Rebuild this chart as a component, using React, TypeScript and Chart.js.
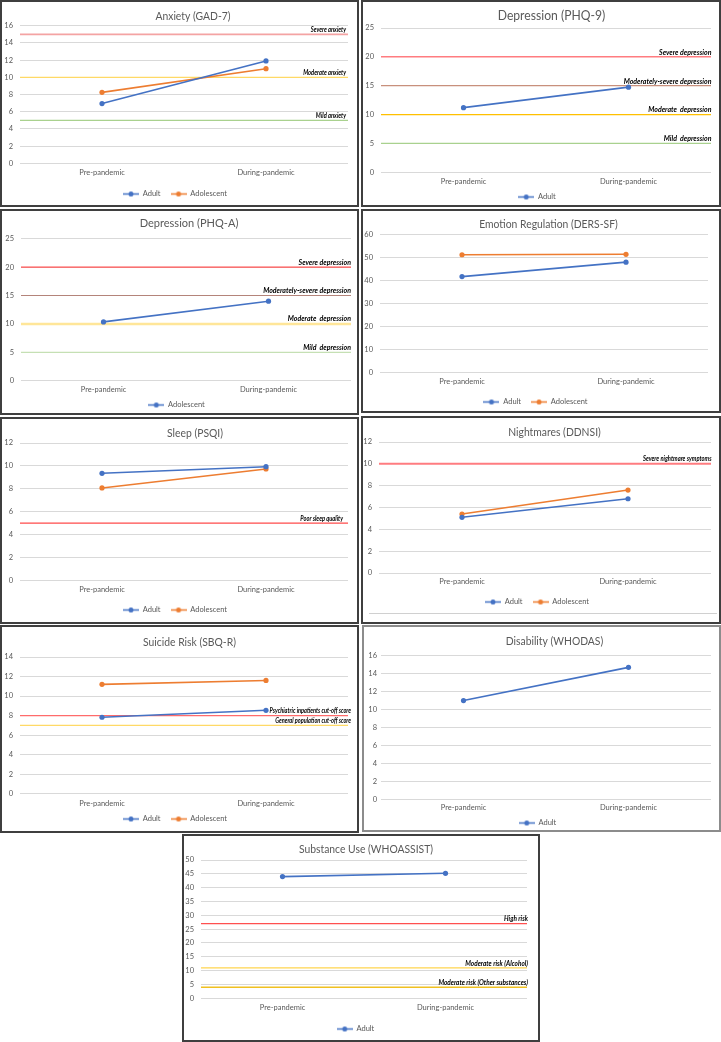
import React, { useEffect, useRef } from "react";
import { Chart, registerables } from "chart.js";
Chart.register(...registerables);

// ---------- DATA ----------
const categories = ["Pre-pandemic", "During-pandemic"];

const anxietyAdult = [6.95, 11.9];
const anxietyAdolescent = [8.25, 11.0];
const anxietyCutValues = [15, 10, 5];
const anxietyCutLabels = ["Severe anxiety", "Moderate anxiety", "Mild anxiety"];

const phq9Adult = [11.2, 14.75];
const depressionCutValues = [20, 15, 10, 5];
const depressionCutLabels = [
  "Severe depression",
  "Moderately-severe depression",
  "Moderate  depression",
  "Mild  depression",
];

const phqaAdolescent = [10.35, 14.0];

const dersAdult = [41.6, 47.9];
const dersAdolescent = [51.1, 51.3];

const psqiAdult = [9.35, 9.93];
const psqiAdolescent = [8.07, 9.73];
const psqiCutValues = [5];
const psqiCutLabels = ["Poor sleep quality"];

const ddnsiAdult = [5.1, 6.8];
const ddnsiAdolescent = [5.4, 7.6];
const ddnsiCutValues = [10];
const ddnsiCutLabels = ["Severe nightmare symptoms"];

const sbqAdult = [7.83, 8.54];
const sbqAdolescent = [11.2, 11.6];
const sbqCutValues = [8, 7];
const sbqCutLabels = ["Psychiatric inpatients cut-off score", "General population cut-off score"];

const whodasAdult = [11.0, 14.7];

const assistAdult = [44.0, 45.2];
const assistCutValues = [27, 11, 4];
const assistCutLabels = ["High risk", "Moderate risk (Alcohol)", "Moderate risk (Other substances)"];

// ---------- STYLE ----------
const FONT = "Lato, 'Open Sans', sans-serif";
const BLUE = "#4472C4";
const ORANGE = "#ED7D31";
const GREY_TEXT = "#595959";

type Series = { label: string; data: number[]; color: string };
type Spec = {
  box: [number, number, number, number];
  border: string;
  title: string;
  titleSize: number;
  titleX: number;
  yMax: number;
  yStep: number;
  yTickPad?: number;
  plot: { left: number; right: number; top: number; bottom: number };
  titleY: number;
  xLabelY: number;
  legendY: number;
  series: Series[];
  cutValues?: number[];
  cutLabels?: string[];
  cutColors?: string[];
  cutWidths?: number[];
  cutFont?: number;
  cutScale?: number;
  cutDx?: number;
  innerLineY?: number;
};

const DARK = "2px solid #3f3f3f";

const specs: Spec[] = [
  {
    box: [0, 0, 359, 207], border: DARK, title: "Anxiety (GAD-7)", titleSize: 11.5, titleX: 193,
    yMax: 16, yStep: 2, plot: { left: 20, right: 348, top: 25.7, bottom: 163.3 },
    titleY: 16, xLabelY: 173, legendY: 194,
    series: [
      { label: "Adult", data: anxietyAdult, color: BLUE },
      { label: "Adolescent", data: anxietyAdolescent, color: ORANGE },
    ],
    cutValues: anxietyCutValues, cutLabels: anxietyCutLabels,
    cutColors: ["#f4a3a3", "#ffd966", "#a9d18e"], cutWidths: [1.8, 1.2, 1.2], cutFont: 7, cutScale: 0.82, cutDx: -2,
  },
  {
    box: [361, 0, 360, 207], border: DARK, title: "Depression (PHQ-9)", titleSize: 13.5, titleX: 551.5,
    yMax: 25, yStep: 5, plot: { left: 381, right: 711, top: 28, bottom: 172.3 },
    titleY: 16, xLabelY: 182, legendY: 197,
    series: [{ label: "Adult", data: phq9Adult, color: BLUE }],
    cutValues: depressionCutValues, cutLabels: depressionCutLabels,
    cutColors: ["#ff7c80", "#c8907c", "#ffc000", "#a9d18e"], cutWidths: [1.5, 1.2, 1.2, 1.2], cutFont: 7.5, cutScale: 0.93, cutDx: 0.5,
  },
  {
    box: [0, 209, 359, 206], border: DARK, title: "Depression (PHQ-A)", titleSize: 12.25, titleX: 189,
    yMax: 25, yStep: 5, plot: { left: 21, right: 351, top: 238.7, bottom: 380.7 },
    titleY: 223, xLabelY: 390, legendY: 405,
    series: [{ label: "Adolescent", data: phqaAdolescent, color: BLUE }],
    cutValues: depressionCutValues, cutLabels: depressionCutLabels,
    cutColors: ["#ff5050", "#b4847a", "#ffe699", "#c5e0b4"], cutWidths: [1.3, 1.2, 2.5, 1.2], cutFont: 7.5, cutScale: 0.93, cutDx: 0,
  },
  {
    box: [361, 209, 360, 204], border: DARK, title: "Emotion Regulation (DERS-SF)", titleSize: 11.5, titleX: 548.5,
    yMax: 60, yStep: 10, plot: { left: 380, right: 708, top: 234.3, bottom: 372.3 },
    titleY: 224, xLabelY: 382, legendY: 402,
    series: [
      { label: "Adult", data: dersAdult, color: BLUE },
      { label: "Adolescent", data: dersAdolescent, color: ORANGE },
    ],
  },
  {
    box: [0, 417, 359, 207], border: DARK, title: "Sleep (PSQI)", titleSize: 11.5, titleX: 195,
    yMax: 12, yStep: 2, plot: { left: 20, right: 348, top: 443, bottom: 580.3 },
    titleY: 433, xLabelY: 590, legendY: 610,
    series: [
      { label: "Adult", data: psqiAdult, color: BLUE },
      { label: "Adolescent", data: psqiAdolescent, color: ORANGE },
    ],
    cutValues: psqiCutValues, cutLabels: psqiCutLabels,
    cutColors: ["#ff4b4b"], cutWidths: [1.2], cutFont: 6.5, cutScale: 0.88, cutDx: -5,
  },
  {
    box: [361, 416, 360, 208], border: DARK, title: "Nightmares (DDNSI)", titleSize: 11.5, titleX: 554.5,
    yMax: 12, yStep: 2, plot: { left: 379, right: 711, top: 442, bottom: 573 },
    titleY: 432, xLabelY: 582, legendY: 602,
    series: [
      { label: "Adult", data: ddnsiAdult, color: BLUE },
      { label: "Adolescent", data: ddnsiAdolescent, color: ORANGE },
    ],
    cutValues: ddnsiCutValues, cutLabels: ddnsiCutLabels,
    cutColors: ["#ff7c80"], cutWidths: [2], cutFont: 6.8, cutScale: 0.85, cutDx: 0.5,
    innerLineY: 613,
  },
  {
    box: [0, 625, 359, 208], border: DARK, title: "Suicide Risk (SBQ-R)", titleSize: 11.5, titleX: 189.5,
    yMax: 14, yStep: 2, plot: { left: 20, right: 348, top: 657, bottom: 793.7 },
    titleY: 642, xLabelY: 804, legendY: 819,
    series: [
      { label: "Adult", data: sbqAdult, color: BLUE },
      { label: "Adolescent", data: sbqAdolescent, color: ORANGE },
    ],
    cutValues: sbqCutValues, cutLabels: sbqCutLabels,
    cutColors: ["#ff6b6b", "#ffd966"], cutWidths: [1.3, 1.3], cutFont: 6.5, cutScale: 0.86, cutDx: 3,
  },
  {
    box: [362, 625, 359, 207], border: "2px solid #8c8c8c", title: "Disability (WHODAS)", titleSize: 11.5, titleX: 554.5,
    yMax: 16, yStep: 2, yTickPad: 4, plot: { left: 381, right: 711, top: 655.7, bottom: 799.3 },
    titleY: 641, xLabelY: 808, legendY: 823,
    series: [{ label: "Adult", data: whodasAdult, color: BLUE }],
  },
  {
    box: [182, 834, 358, 208], border: DARK, title: "Substance Use (WHOASSIST)", titleSize: 11.5, titleX: 366,
    yMax: 50, yStep: 5, plot: { left: 201, right: 527, top: 860, bottom: 998.3 },
    titleY: 849, xLabelY: 1008, legendY: 1029,
    series: [{ label: "Adult", data: assistAdult, color: BLUE }],
    cutValues: assistCutValues, cutLabels: assistCutLabels,
    cutColors: ["#ff5050", "#ffd54f", "#f0c020"], cutWidths: [1.3, 1.3, 1.3], cutFont: 7, cutScale: 0.92, cutDx: 1,
  },
];

function legendIcon(color: string): HTMLCanvasElement {
  const c = document.createElement("canvas");
  c.width = 16;
  c.height = 7;
  const g = c.getContext("2d")!;
  g.strokeStyle = color;
  g.lineWidth = 1.5;
  g.beginPath();
  g.moveTo(0, 3.5);
  g.lineTo(16, 3.5);
  g.stroke();
  g.fillStyle = color;
  g.beginPath();
  g.arc(8, 3.5, 2.5, 0, Math.PI * 2);
  g.fill();
  return c;
}

const BORDER = 2;
const EXTRA = 12;
const TICK = 7.5;
const LEG = 7.5;
const LEG_PAD = 10;
const TITLE_SCALE = 0.9;

function Panel({ spec }: { spec: Spec }) {
  const ref = useRef<HTMLCanvasElement | null>(null);
  const [left, top, w, h] = spec.box;
  const cw = w - 2 * BORDER;
  const ch = h - 2 * BORDER + EXTRA;
  useEffect(() => {
    if (!ref.current) return;
    const ox = left + BORDER;
    const oy = top + BORDER;
    const pl = spec.plot.left - ox;
    const pr = spec.plot.right - ox;
    const pt = spec.plot.top - oy;
    const pb = spec.plot.bottom - oy;
    const legendTop = spec.legendY - oy - LEG_PAD - LEG / 2;
    const legendH = LEG + LEG_PAD + 10;
    const padBottom = ch - (legendTop + legendH);
    const xAxisH = legendTop - pb;
    // mirrored ticks: centre = axisTop - padding - lineHeight/2
    const xTickPad = -(spec.xLabelY - oy - pb) - TICK * 0.6;

    const panelPlugin = {
      id: "panelDecor",
      beforeDatasetsDraw(chart: any) {
        if (!spec.cutValues) return;
        const { ctx, chartArea, scales } = chart;
        ctx.save();
        spec.cutValues.forEach((v, i) => {
          const y = scales.y.getPixelForValue(v);
          ctx.strokeStyle = spec.cutColors![i];
          ctx.lineWidth = spec.cutWidths![i];
          ctx.beginPath();
          ctx.moveTo(chartArea.left, y);
          ctx.lineTo(chartArea.right, y);
          ctx.stroke();
        });
        ctx.restore();
      },
      afterDatasetsDraw(chart: any) {
        const { ctx, chartArea, scales } = chart;
        // title
        ctx.save();
        ctx.fillStyle = GREY_TEXT;
        ctx.textAlign = "center";
        ctx.textBaseline = "middle";
        ctx.font = `normal ${spec.titleSize}px ${FONT}`;
        ctx.translate(spec.titleX - ox, spec.titleY - oy);
        ctx.scale(TITLE_SCALE, 1);
        ctx.fillText(spec.title, 0, 0);
        ctx.restore();
        if (spec.innerLineY) {
          ctx.save();
          ctx.strokeStyle = "#d0d0d0";
          ctx.lineWidth = 1;
          ctx.beginPath();
          ctx.moveTo(6, spec.innerLineY - oy + 0.5);
          ctx.lineTo(cw - 2, spec.innerLineY - oy + 0.5);
          ctx.stroke();
          ctx.restore();
        }
        if (!spec.cutValues) return;
        ctx.save();
        ctx.fillStyle = "#000";
        ctx.textAlign = "right";
        ctx.textBaseline = "alphabetic";
        ctx.font = `italic bold ${spec.cutFont}px ${FONT}`;
        spec.cutValues.forEach((v, i) => {
          const y = scales.y.getPixelForValue(v);
          ctx.save();
          ctx.translate(chartArea.right + (spec.cutDx || 0), y - spec.cutWidths![i] / 2 - 1.5);
          ctx.scale(spec.cutScale || 1, 1);
          ctx.fillText(spec.cutLabels![i], 0, 0);
          ctx.restore();
        });
        ctx.restore();
      },
    };

    const chart = new Chart(ref.current, {
      type: "line",
      data: {
        labels: categories,
        datasets: spec.series.map((s) => ({
          label: s.label,
          data: s.data,
          borderColor: s.color,
          backgroundColor: s.color,
          borderWidth: 1.6,
          pointRadius: 2.6,
          pointBorderWidth: 0,
          pointBackgroundColor: s.color,
          tension: 0,
          fill: false,
        })),
      },
      options: {
        responsive: false,
        animation: false,
        events: [],
        layout: { padding: { left: 0, right: cw - pr, top: pt, bottom: padBottom } },
        plugins: {
          title: { display: false },
          legend: {
            display: true,
            position: "bottom",
            labels: {
              color: GREY_TEXT,
              font: { family: FONT, size: LEG },
              padding: LEG_PAD,
              usePointStyle: true,
              pointStyleWidth: 16,
              generateLabels: (c: any) =>
                c.data.datasets.map((ds: any, i: number) => ({
                  text: ds.label,
                  fillStyle: ds.borderColor,
                  strokeStyle: ds.borderColor,
                  lineWidth: 0,
                  pointStyle: legendIcon(ds.borderColor),
                  datasetIndex: i,
                  hidden: false,
                  fontColor: GREY_TEXT,
                })),
            },
          },
          tooltip: { enabled: false },
        },
        scales: {
          x: {
            offset: true,
            grid: { display: false, drawTicks: false },
            border: { display: false },
            ticks: {
              color: GREY_TEXT,
              font: { family: FONT, size: TICK },
              padding: xTickPad,
              mirror: true,
              maxRotation: 0,
              autoSkip: false,
            },
            afterFit: (s: any) => {
              s.height = xAxisH;
            },
          },
          y: {
            min: 0,
            max: spec.yMax,
            ticks: {
              stepSize: spec.yStep,
              color: GREY_TEXT,
              font: { family: FONT, size: TICK },
              padding: spec.yTickPad ?? 7,
            },
            grid: { color: "#d9d9d9", lineWidth: 1, drawTicks: false },
            border: { display: false },
            afterFit: (s: any) => {
              s.width = pl;
            },
          },
        },
      },
      plugins: [panelPlugin],
    } as any);
    return () => chart.destroy();
  }, []);

  return (
    <div
      style={{
        position: "absolute",
        left,
        top,
        width: w,
        height: h,
        boxSizing: "border-box",
        border: spec.border,
        overflow: "hidden",
        background: "#fff",
      }}
    >
      <canvas ref={ref} width={cw} height={ch} style={{ display: "block", width: cw, height: ch }} />
    </div>
  );
}

export default function App() {
  return (
    <div style={{ position: "absolute", left: 0, top: 0, width: 721, height: 1042, background: "#fff", overflow: "hidden" }}>
      {specs.map((s, i) => (
        <Panel key={i} spec={s} />
      ))}
    </div>
  );
}
